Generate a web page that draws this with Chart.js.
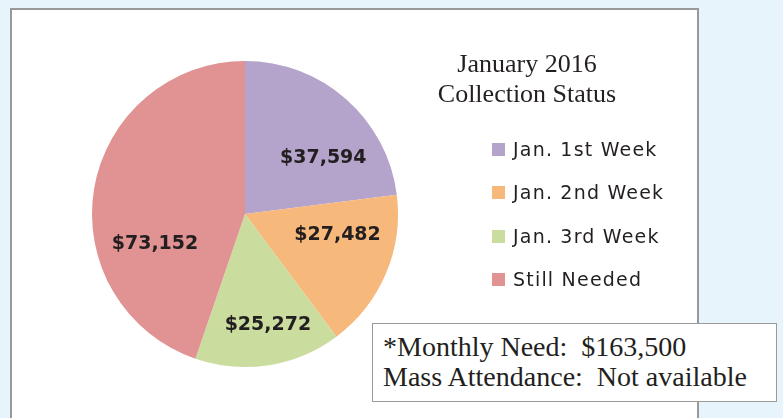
<!DOCTYPE html>
<html>
<head>
<meta charset="utf-8">
<script src="https://cdn.jsdelivr.net/npm/chart.js@4/dist/chart.umd.min.js"></script>
<style>
  html, body { margin:0; padding:0; }
  body { width:783px; height:418px; background:#e7f4fc; position:relative; overflow:hidden; }
  #panel { position:absolute; left:10px; top:8px; width:689px; height:430px; background:#fff; border:2px solid #999; box-sizing:border-box; }
  #wrap { position:absolute; left:0; top:0; width:783px; height:418px; }
  #title { position:absolute; left:427px; width:200px; top:49px; text-align:center; font-family:"Liberation Serif", serif; font-size:26px; line-height:30px; color:#231f20; white-space:nowrap; }
  #legend { position:absolute; left:492px; top:0; font-family:"DejaVu Sans", sans-serif; font-size:19px; letter-spacing:1.2px; color:#231f20; }
  .li { position:absolute; left:0; white-space:nowrap; height:24px; line-height:24px; }
  .sw { position:absolute; left:0; top:6px; width:13px; height:13px; }
  .lt { position:absolute; left:21px; top:0; }
  #note { position:absolute; left:372px; top:323px; width:405px; height:79px; background:#fff; border:1px solid #9a9a9a; box-sizing:border-box; }
  #notetext { position:absolute; left:10px; top:8px; font-family:"Liberation Serif", serif; font-size:28px; line-height:30px; color:#231f20; white-space:pre; }
</style>
</head>
<body>
<div id="panel"></div>
<div id="wrap"><canvas id="c" width="783" height="418"></canvas></div>
<div id="title"></div>
<div id="legend"></div>
<div id="note"><div id="notetext"></div></div>
<script>
const categories = ["Jan. 1st Week", "Jan. 2nd Week", "Jan. 3rd Week", "Still Needed"];
const values = [37594, 27482, 25272, 73152];
const titleLines = ["January 2016", "Collection Status"];
const noteLines = ["*Monthly Need:  $163,500", "Mass Attendance:  Not available"];

const colors = ["#b4a3cb", "#f6b87b", "#cbdd9e", "#e09392"];
// label placement: fraction along slice angle, fraction of radius
const labelT = [0.656, 0.33, 0.45, 0.327];
const labelR = [0.63, 0.62, 0.74, 0.62];
const legendY = [149, 192, 236, 279];

document.getElementById('title').innerHTML = titleLines.join('<br>');
document.getElementById('notetext').textContent = noteLines.join('\n');
const lg = document.getElementById('legend');
categories.forEach((c, i) => {
  const d = document.createElement('div');
  d.className = 'li';
  d.style.top = (legendY[i] - 12) + 'px';
  d.innerHTML = '<span class="sw" style="background:' + colors[i] + '"></span><span class="lt">' + c + '</span>';
  lg.appendChild(d);
});

const fmt = v => '$' + v.toLocaleString('en-US');

const labelPlugin = {
  id: 'sliceLabels',
  afterDatasetsDraw(chart) {
    const ctx = chart.ctx;
    const meta = chart.getDatasetMeta(0);
    ctx.save();
    ctx.font = 'bold 19px "DejaVu Sans", sans-serif';
    ctx.fillStyle = '#231f20';
    ctx.textAlign = 'center';
    ctx.textBaseline = 'middle';
    meta.data.forEach((arc, i) => {
      const p = arc.getProps(['x','y','startAngle','endAngle','outerRadius'], true);
      const a = p.startAngle + labelT[i] * (p.endAngle - p.startAngle);
      const r = labelR[i] * p.outerRadius;
      ctx.fillText(fmt(values[i]), p.x + Math.cos(a) * r, p.y + Math.sin(a) * r);
    });
    ctx.restore();
  }
};

new Chart(document.getElementById('c'), {
  type: 'pie',
  data: {
    labels: categories,
    datasets: [{ data: values, backgroundColor: colors, borderWidth: 0 }]
  },
  options: {
    responsive: false,
    animation: false,
    layout: { padding: { left: 92, top: 61, right: 385, bottom: 51 } },
    plugins: { legend: { display: false }, tooltip: { enabled: false }, title: { display: false } }
  },
  plugins: [labelPlugin]
});
</script>
</body>
</html>
